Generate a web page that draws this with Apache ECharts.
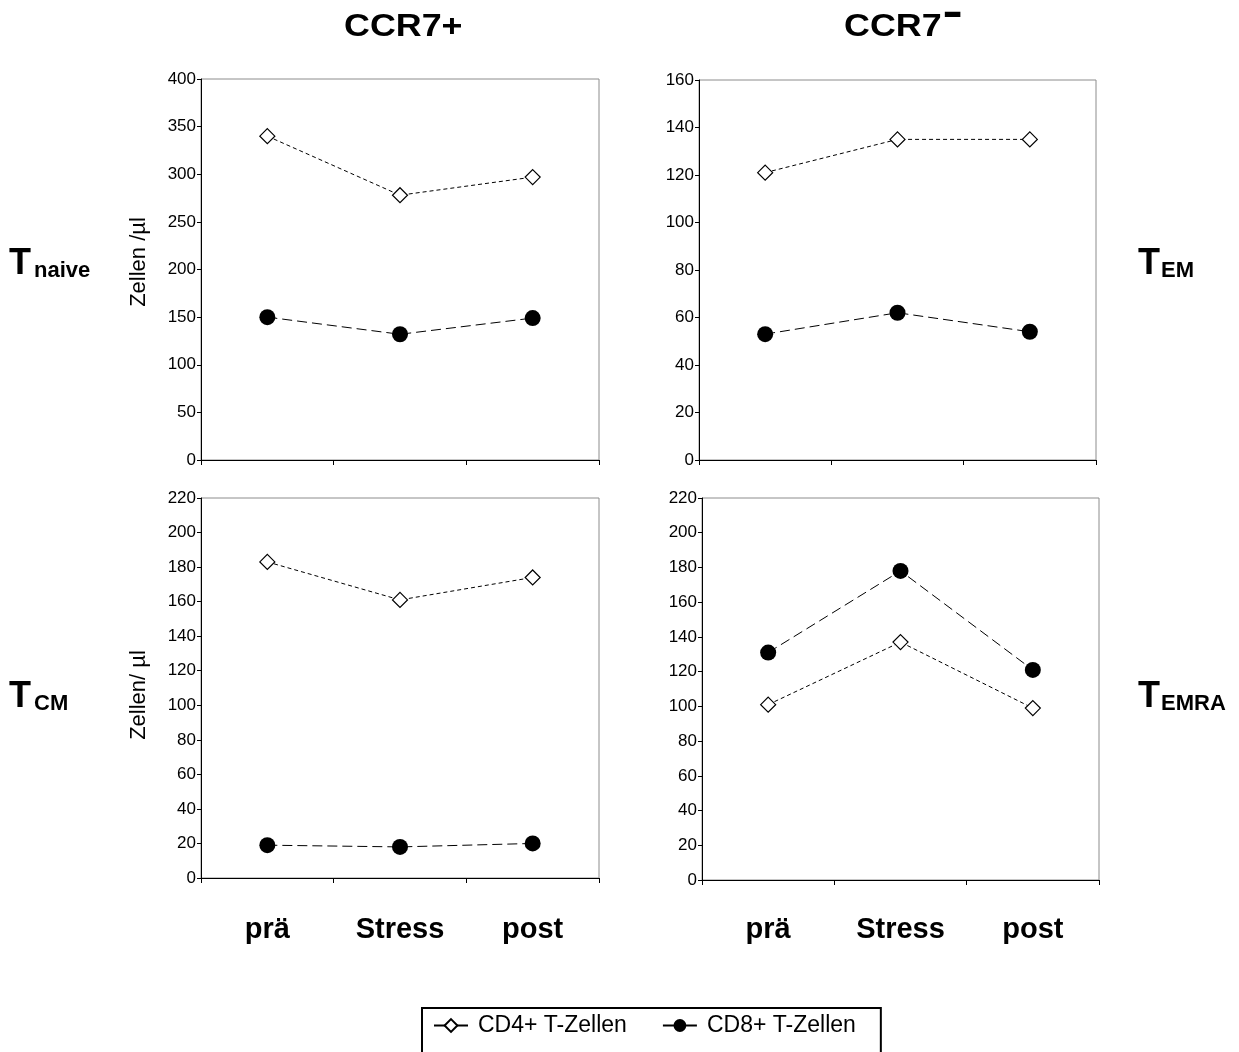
<!DOCTYPE html>
<html>
<head>
<meta charset="utf-8">
<script src="https://cdn.jsdelivr.net/npm/echarts@6/dist/echarts.min.js"></script>
<style>
  html, body { margin: 0; padding: 0; background: #fff; }
  #main { width: 1239px; height: 1052px; }
</style>
</head>
<body>
<div id="main"></div>
<script>
// categories and values
const categories = ["prä", "Stress", "post"];
const seriesNames = ["CD4+ T-Zellen", "CD8+ T-Zellen"];

const naiveCD4 = [340, 278, 297];
const naiveCD8 = [150, 132, 149];
const emCD4 = [121, 135, 135];
const emCD8 = [53, 62, 54];
const cmCD4 = [183, 161, 174];
const cmCD8 = [19, 18, 20];
const emraCD4 = [101, 137, 99];
const emraCD8 = [131, 178, 121];

const yMax = [400, 160, 220, 220];
const yStep = [50, 20, 20, 20];
const yNames = ["Zellen /µl", "", "Zellen/ µl", ""];

const font = "Liberation Sans, Arial, sans-serif";
const chart = echarts.init(document.getElementById("main"));

const grids = [
  { left: 201, top: 79, width: 398, height: 381 },
  { left: 699, top: 80, width: 397, height: 380 },
  { left: 201, top: 498, width: 398, height: 380 },
  { left: 702, top: 498, width: 397, height: 382 }
].map(function(g) {
  return Object.assign({ show: true, borderColor: "#8c8c8c", borderWidth: 1, backgroundColor: "#fff" }, g);
});

const xAxes = grids.map(function(g, i) {
  return {
    type: "category",
    gridIndex: i,
    data: categories,
    boundaryGap: true,
    axisLine: { lineStyle: { color: "#000", width: 1 } },
    axisTick: { show: true, length: 5, lineStyle: { color: "#000" } },
    axisLabel: {
      show: i >= 2,
      margin: i == 2 ? 37 : 35,
      fontSize: 29,
      fontWeight: "bold",
      color: "#000",
      fontFamily: font
    },
    splitLine: { show: false }
  };
});

const yAxes = grids.map(function(g, i) {
  return {
    type: "value",
    gridIndex: i,
    min: 0,
    max: yMax[i],
    interval: yStep[i],
    name: yNames[i],
    nameLocation: "middle",
    nameGap: 51,
    nameTextStyle: {
      fontSize: 22,
      color: "#000",
      fontFamily: font,
      padding: i == 0 ? [0, 0, 0, 15] : [0, 14, 0, 0]
    },
    axisLine: { show: true, lineStyle: { color: "#000", width: 1 } },
    axisTick: { show: true, length: 4, lineStyle: { color: "#000" } },
    axisLabel: { fontSize: 17, color: "#000", margin: 5, fontFamily: font },
    splitLine: { show: false }
  };
});

function cd4(data, i) {
  return {
    name: seriesNames[0],
    type: "line",
    xAxisIndex: i,
    yAxisIndex: i,
    data: data,
    symbol: "diamond",
    symbolSize: [15, 15],
    itemStyle: { color: "#fff", borderColor: "#000", borderWidth: 1.2 },
    lineStyle: { color: "#000", width: 1, type: [4, 3] },
    z: 3
  };
}
function cd8(data, i) {
  return {
    name: seriesNames[1],
    type: "line",
    xAxisIndex: i,
    yAxisIndex: i,
    data: data,
    symbol: "circle",
    symbolSize: 16,
    itemStyle: { color: "#000", borderColor: "#000", borderWidth: 0 },
    lineStyle: { color: "#000", width: 1, type: [10, 5] },
    z: 4
  };
}

function label(text, x, y, size, sx) {
  return {
    type: "text",
    x: x,
    y: y,
    scaleX: sx || 1,
    style: { text: text, fontSize: size, fontWeight: "bold", fill: "#000", fontFamily: font }
  };
}

chart.setOption({
  backgroundColor: "#fff",
  animation: false,
  grid: grids,
  xAxis: xAxes,
  yAxis: yAxes,
  legend: {
    data: seriesNames,
    left: 422,
    top: 1008,
    padding: [6, 25, 22, 11],
    itemGap: 35,
    itemWidth: 34,
    itemHeight: 16,
    borderColor: "#000",
    borderWidth: 2,
    lineStyle: { type: "solid", width: 2 },
    textStyle: { fontSize: 23, color: "#000", fontFamily: font, padding: [0, 0, 0, 5] }
  },
  series: [
    cd4(naiveCD4, 0), cd8(naiveCD8, 0),
    cd4(emCD4, 1), cd8(emCD8, 1),
    cd4(cmCD4, 2), cd8(cmCD8, 2),
    cd4(emraCD4, 3), cd8(emraCD8, 3)
  ],
  graphic: [
    label("CCR7+", 344, 11, 32, 1.12),
    label("CCR7", 844, 11, 32, 1.12),
    {
      type: "text",
      x: 945,
      y: 3,
      style: { text: "−", fontSize: 26, fontWeight: "bold", fill: "#000", stroke: "#000", lineWidth: 2.5, fontFamily: font }
    },
    label("T", 9, 246, 36),
    label("naive", 34, 260, 22),
    label("T", 1138, 246, 36),
    label("EM", 1161, 260, 22),
    label("T", 9, 679, 36),
    label("CM", 34, 693, 22),
    label("T", 1138, 679, 36),
    label("EMRA", 1161, 693, 22)
  ]
});
</script>
</body>
</html>
